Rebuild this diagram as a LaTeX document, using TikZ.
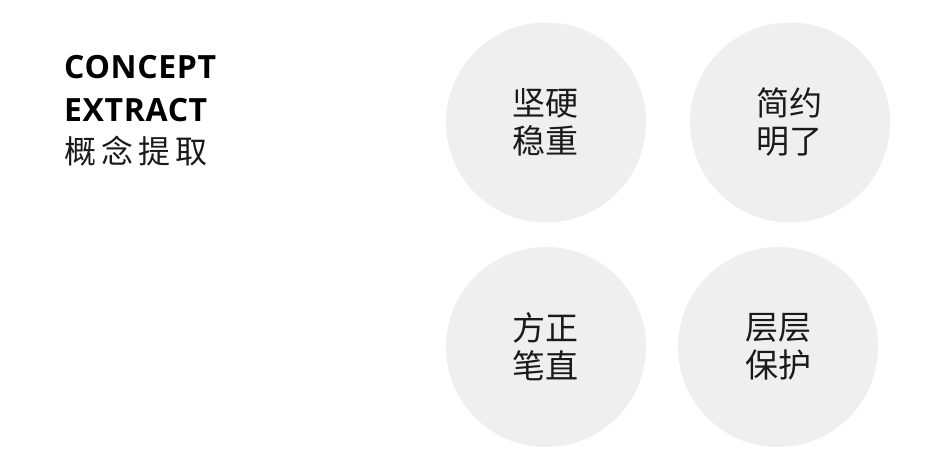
\documentclass[tikz,border=0pt]{standalone}
\usepackage{fontspec}
\setmainfont{Open Sans}
\newfontfamily\cjk{Noto Sans CJK SC}
\newfontfamily\cjkspaced[LetterSpace=16]{Noto Sans CJK SC}
\definecolor{circfill}{HTML}{EFEFEF}
\definecolor{ink}{HTML}{1A1A1A}
\tikzset{
  bubble/.style={circle, fill=circfill, minimum size=200bp, inner sep=0pt},
  bubbletext/.style={font=\cjk\fontsize{33bp}{38bp}\selectfont, text=ink, align=center, inner sep=0pt},
  title/.style={font=\addfontfeature{LetterSpace=2}\bfseries\fontsize{32bp}{37bp}\selectfont, text=black, anchor=base west, inner sep=0pt},
}
\begin{document}
\begin{tikzpicture}[x=1bp,y=-1bp]
\useasboundingbox[fill=white] (0,0) rectangle (938,465);
\node[title] (t1) at (64,79) {CONCEPT};
\node[title] (t2) at (64,122) {EXTRACT};
\node[font=\cjkspaced\fontsize{32bp}{37bp}\selectfont, text=ink, anchor=base west, inner sep=0pt] (t3) at (64,164) {概念提取};
\node[bubble] (c1) at (546,122.5) {};
\node[bubble] (c2) at (790,122.5) {};
\node[bubble] (c3) at (546,347) {};
\node[bubble] (c4) at (778,347) {};
\node[bubbletext] (l1) at (545,122) {坚硬\\稳重};
\node[bubbletext] (l2) at (789,122) {简约\\明了};
\node[bubbletext] (l3) at (545,347) {方正\\笔直};
\node[bubbletext] (l4) at (778,347) {层层\\保护};
\end{tikzpicture}
\end{document}
